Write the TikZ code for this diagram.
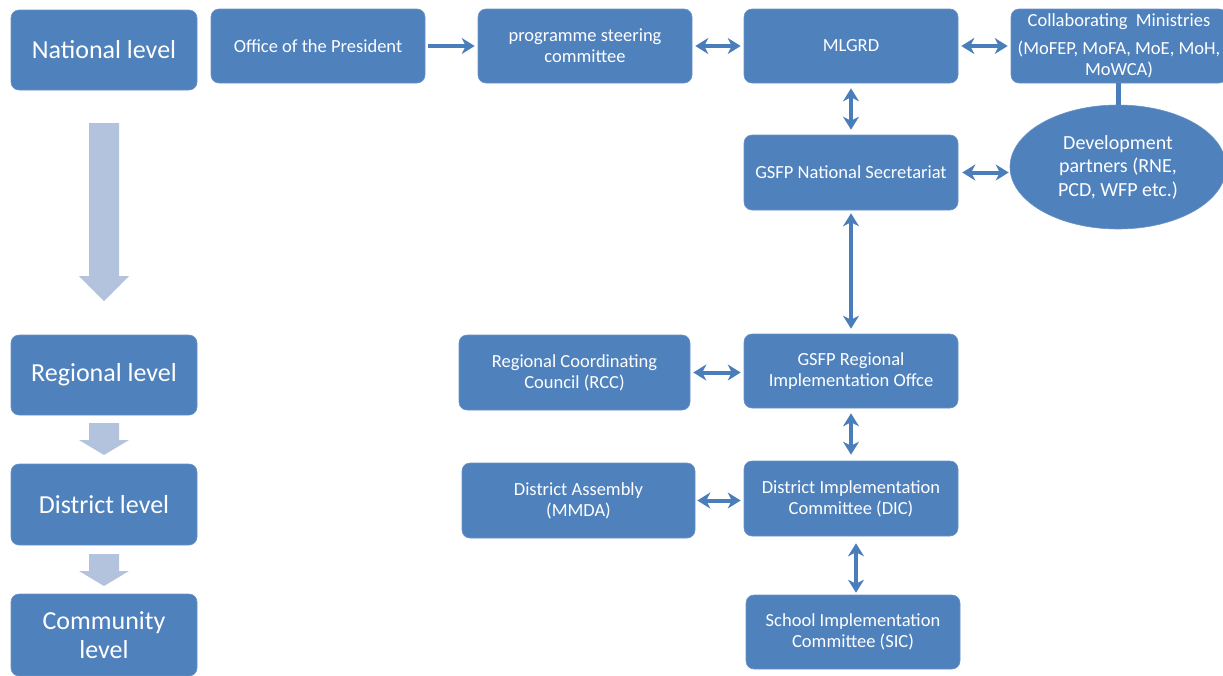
\documentclass[tikz,border=0pt]{standalone}
\usepackage{fontspec}
\setmainfont{Carlito}
\usetikzlibrary{arrows.meta,shapes.geometric}
\definecolor{boxblue}{HTML}{4F81BD}
\definecolor{boxedge}{HTML}{6A93C6}
\definecolor{lightarrow}{HTML}{B3C3DE}
\definecolor{linkblue}{HTML}{4A7EBB}
\tikzset{
  box/.style={rectangle, rounded corners=8pt, fill=boxblue, draw=boxedge, line width=0.6pt,
    text=white, align=center, inner sep=0pt,
    font=\fontsize{18.5}{21}\selectfont},
  levelbox/.style={box, minimum width=186pt, minimum height=80pt,
    font=\fontsize{26}{29}\selectfont},
  orgbox/.style={box, minimum width=214pt, minimum height=74pt},
  link/.style={draw=linkblue, line width=4pt,
    {Stealth[length=13pt,width=16pt,inset=4pt]}-{Stealth[length=13pt,width=16pt,inset=4pt]}},
  onelink/.style={draw=linkblue, line width=4pt, -{Stealth[length=13pt,width=16pt,inset=4pt]}},
  blockarrow/.style={fill=lightarrow, draw=none}
}
\begin{document}
\begin{tikzpicture}[x=1pt,y=-1pt]
\useasboundingbox (0,0) rectangle (1223,675);
\clip (0,0) rectangle (1223,675);

% level boxes
\node[levelbox] (nat) at (104,50) {National level};
\node[levelbox] (reg) at (104,375) {Regional level};
\node[levelbox, minimum height=81pt] (dis) at (104,504.5) {District level};
\node[levelbox, minimum height=82pt] (com) at (104,635) {Community\\level};

% light block arrows
\fill[blockarrow] (89,123) -- (119,123) -- (119,276) -- (129,276) -- (104,301) -- (79,276) -- (89,276) -- cycle;
\fill[blockarrow] (89,423) -- (119,423) -- (119,440) -- (129,440) -- (104,455) -- (79,440) -- (89,440) -- cycle;
\fill[blockarrow] (89,554) -- (119,554) -- (119,571) -- (129,571) -- (104,586) -- (79,571) -- (89,571) -- cycle;

% organisation boxes
\node[orgbox] (office) at (318,46) {Office of the President};
\node[orgbox] (psc) at (585,46) {programme steering\\committee};
\node[orgbox] (mlgrd) at (851,46) {MLGRD};
\node[orgbox, minimum width=216pt] (collab) at (1119,46) {Collaborating~ Ministries\\[7pt](MoFEP, MoFA, MoE, MoH,\\MoWCA)};
\node[ellipse, fill=boxblue, draw=boxedge, line width=0.6pt, text=white, align=center,
  inner sep=0pt, minimum width=216pt, minimum height=124pt,
  font=\fontsize{20}{23.5}\selectfont] (dev) at (1118,167) {Development\\partners (RNE,\\PCD, WFP etc.)};
\node[orgbox, minimum height=75pt] (ns) at (851,172.5) {GSFP National Secretariat};
\node[orgbox] (rio) at (851,371) {GSFP Regional\\Implementation Offce};
\node[orgbox, minimum width=231pt, minimum height=75pt] (rcc) at (574.5,372.5) {Regional Coordinating\\Council (RCC)};
\node[orgbox, minimum height=75pt] (dic) at (851,498.5) {District Implementation\\Committee (DIC)};
\node[orgbox, minimum width=233pt, minimum height=75pt] (mmda) at (578.5,500.5) {District Assembly\\(MMDA)};
\node[orgbox] (sic) at (853,632) {School Implementation\\Committee (SIC)};

% connectors
\draw[onelink, shorten <=3pt, shorten >=3pt] (office.east) -- (psc.west);
\draw[link, shorten <=3pt, shorten >=3pt] (psc.east) -- (mlgrd.west);
\draw[link, shorten <=3pt, shorten >=3pt] (mlgrd.east) -- (collab.west);
\draw[link, shorten <=5pt, shorten >=5pt] (mlgrd.south) -- (ns.north);
\draw[link, shorten <=4pt, shorten >=1pt] (ns.east) -- (ns.east -| dev.west);
\draw[draw=linkblue, line width=5pt] (collab.south -| dev.north) -- (dev.north);
\draw[link, shorten <=3pt, shorten >=5pt] (ns.south) -- (rio.north);
\draw[link, shorten <=3pt, shorten >=3pt] (rcc.east) -- (rcc.east -| rio.west);
\draw[link, shorten <=5pt, shorten >=6pt] (rio.south) -- (dic.north);
\draw[link, shorten <=2pt, shorten >=3pt] (mmda.east) -- (mmda.east -| dic.west);
\draw[link, shorten <=7pt, shorten >=2pt] ([xshift=5pt]dic.south) -- ([xshift=3pt]sic.north);
\end{tikzpicture}
\end{document}
